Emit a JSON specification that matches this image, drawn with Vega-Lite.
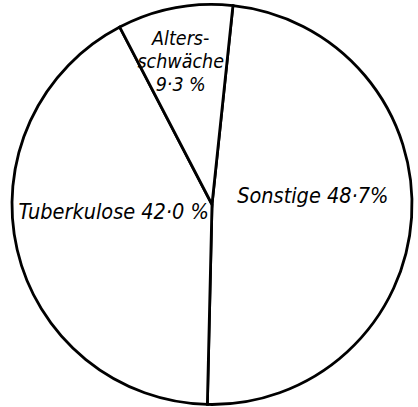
{
  "$schema": "https://vega.github.io/schema/vega-lite/v6.json",
  "width": 418,
  "height": 407,
  "autosize": {"type": "fit", "contains": "padding"},
  "padding": {"left": 6, "top": 2, "right": 0, "bottom": 0},
  "background": "white",
  "config": {"view": {"stroke": null}},
  "data": {
    "values": [
      {"rank": 1, "cause": "Sonstige", "percent": 48.7, "label": "Sonstige 48·7%"},
      {"rank": 2, "cause": "Tuberkulose", "percent": 42.0, "label": "Tuberkulose 42·0 %"},
      {"rank": 3, "cause": "Altersschwäche", "percent": 9.3, "label": ["Alters-", "schwäche", "9·3 %"]}
    ]
  },
  "encoding": {
    "theta": {"field": "percent", "type": "quantitative", "stack": true, "scale": {"range": [0.105, 6.388]}},
    "order": {"field": "rank", "type": "ordinal"}
  },
  "layer": [
    {
      "mark": {"type": "arc", "outerRadius": 200, "fill": "white", "stroke": "black", "strokeWidth": 2.8}
    },
    {
      "mark": {"type": "text", "radius": 101, "dy": -14, "font": "DejaVu Sans Condensed", "fontStyle": "italic", "fontSize": 21.5, "fill": "black"},
      "encoding": {
        "text": {"condition": {"test": "datum.rank < 3", "field": "label"}, "value": ""}
      }
    },
    {
      "mark": {"type": "text", "radius": 168, "font": "DejaVu Sans Condensed", "fontStyle": "italic", "fontSize": 19.5, "lineHeight": 23, "fill": "black"},
      "encoding": {
        "text": {"condition": {"test": "datum.rank == 3", "field": "label"}, "value": ""}
      }
    }
  ]
}
